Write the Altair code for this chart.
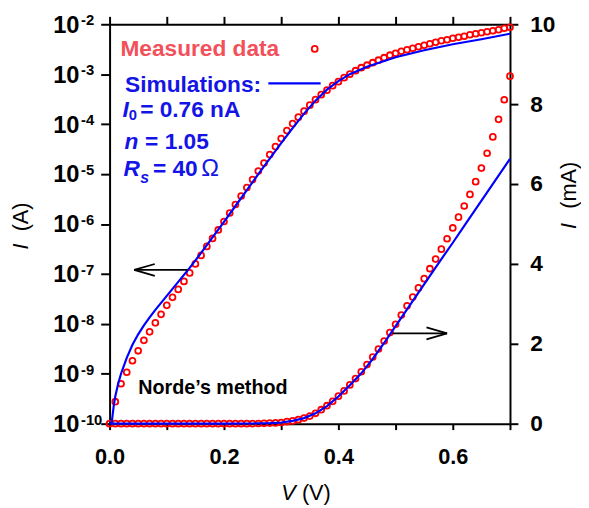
import altair as alt
import pandas as pd

FONT = "Liberation Sans"

# ---------------- data ----------------
# measured, log plot (left axis): V in volts, log10(I / A)
V_log_meas = [0.01, 0.02, 0.03, 0.04, 0.05, 0.06, 0.07, 0.08, 0.09, 0.10,
              0.11, 0.12, 0.13, 0.14, 0.15, 0.16, 0.17, 0.18, 0.19, 0.20,
              0.21, 0.22, 0.23, 0.24, 0.25, 0.26, 0.27, 0.28, 0.29, 0.30,
              0.31, 0.32, 0.33, 0.34, 0.35, 0.36, 0.37, 0.38, 0.39, 0.40,
              0.41, 0.42, 0.43, 0.44, 0.45, 0.46, 0.47, 0.48, 0.49, 0.50,
              0.51, 0.52, 0.53, 0.54, 0.55, 0.56, 0.57, 0.58, 0.59, 0.60,
              0.61, 0.62, 0.63, 0.64, 0.65, 0.66, 0.67, 0.68, 0.69, 0.70]
logI_meas = [-9.56, -9.20, -8.97, -8.74, -8.54, -8.33, -8.16, -7.98, -7.81, -7.63,
             -7.47, -7.31, -7.15, -6.98, -6.80, -6.63, -6.45, -6.29, -6.12, -5.95,
             -5.78, -5.61, -5.44, -5.27, -5.11, -4.94, -4.78, -4.61, -4.45, -4.29,
             -4.13, -3.99, -3.86, -3.74, -3.62, -3.51, -3.41, -3.32, -3.23, -3.15,
             -3.07, -3.00, -2.93, -2.87, -2.82, -2.77, -2.72, -2.67, -2.62, -2.58,
             -2.54, -2.51, -2.48, -2.45, -2.42, -2.39, -2.36, -2.33, -2.31, -2.28,
             -2.26, -2.24, -2.21, -2.19, -2.17, -2.15, -2.13, -2.11, -2.08, -2.06]

# measured, linear plot (right axis): V in volts, I in mA
V_lin_meas = [0.00, 0.01, 0.02, 0.03, 0.04, 0.05, 0.06, 0.07, 0.08, 0.09, 0.10,
              0.11, 0.12, 0.13, 0.14, 0.15, 0.16, 0.17, 0.18, 0.19, 0.20,
              0.21, 0.22, 0.23, 0.24, 0.25, 0.26, 0.27, 0.28, 0.29, 0.30,
              0.31, 0.32, 0.33, 0.34, 0.35, 0.36, 0.37, 0.38, 0.39, 0.40,
              0.41, 0.42, 0.43, 0.44, 0.45, 0.46, 0.47, 0.48, 0.49, 0.50,
              0.51, 0.52, 0.53, 0.54, 0.55, 0.56, 0.57, 0.58, 0.59, 0.60,
              0.61, 0.62, 0.63, 0.64, 0.65, 0.66, 0.67, 0.68, 0.69, 0.70]
I_mA_meas = [0.0, 0.0, 0.0, 0.0, 0.0, 0.0, 0.0, 0.0, 0.0, 0.0, 0.0,
             0.0, 0.0, 0.0, 0.0, 0.0, 0.0, 0.0, 0.0, 0.0, 0.0,
             0.0, 0.0, 0.0, 0.0, 0.0, 0.005, 0.01, 0.015, 0.02, 0.03,
             0.05, 0.07, 0.10, 0.14, 0.19, 0.26, 0.35, 0.45, 0.56, 0.69,
             0.82, 0.97, 1.13, 1.30, 1.48, 1.67, 1.87, 2.07, 2.28, 2.49,
             2.72, 2.95, 3.17, 3.40, 3.63, 3.88, 4.12, 4.37, 4.63, 4.90,
             5.17, 5.45, 5.74, 6.06, 6.40, 6.77, 7.18, 7.62, 8.11, 8.70]

# simulation, log plot
V_sim_log = [0.0035, 0.005, 0.0075, 0.01, 0.015, 0.02, 0.03, 0.04, 0.05, 0.06,
             0.07, 0.08, 0.09, 0.10, 0.12, 0.14, 0.16, 0.18, 0.20, 0.22,
             0.24, 0.26, 0.28, 0.30, 0.32, 0.34, 0.36, 0.38, 0.40, 0.42,
             0.45, 0.50, 0.55, 0.60, 0.65, 0.70]
logI_sim = [-10.0, -9.86, -9.62, -9.45, -9.20, -9.00, -8.68, -8.42, -8.21, -8.03,
            -7.87, -7.72, -7.58, -7.44, -7.16, -6.88, -6.58, -6.27, -5.96, -5.64,
            -5.32, -5.00, -4.69, -4.38, -4.08, -3.79, -3.53, -3.31, -3.14, -3.00,
            -2.85, -2.66, -2.52, -2.40, -2.30, -2.19]

# simulation, linear plot (mA)
V_sim_lin = [0.0, 0.10, 0.20, 0.25, 0.28, 0.30, 0.32, 0.34, 0.36, 0.38, 0.40,
             0.42, 0.44, 0.46, 0.48, 0.50, 0.52, 0.54, 0.56, 0.58, 0.60,
             0.62, 0.64, 0.66, 0.68, 0.70]
I_mA_sim = [0.0, 0.0, 0.0, 0.005, 0.015, 0.03, 0.07, 0.14, 0.26, 0.44, 0.68,
            0.96, 1.26, 1.62, 2.02, 2.44, 2.86, 3.28, 3.70, 4.12, 4.53,
            4.95, 5.37, 5.79, 6.21, 6.63]

# axis ticks
x_ticks = [0.0, 0.1, 0.2, 0.3, 0.4, 0.5, 0.6, 0.7]
log_exponents = [-10, -9, -8, -7, -6, -5, -4, -3, -2]
lin_ticks = [0, 2, 4, 6, 8, 10]

# annotation arrows (data coordinates)
arrow_left = {"x": [0.043, 0.043, 0.043], "x2": [0.136, 0.079, 0.079],
              "y": [1.2e-7, 1.2e-7, 1.2e-7], "y2": [1.2e-7, 1.58e-7, 9.1e-8]}
arrow_right = {"x": [0.495, 0.590, 0.590], "x2": [0.590, 0.554, 0.554],
               "y": [2.26, 2.26, 2.26], "y2": [2.26, 2.41, 2.11]}

assert len(V_log_meas) == len(logI_meas)
assert len(V_lin_meas) == len(I_mA_meas)
assert len(V_sim_log) == len(logI_sim)
assert len(V_sim_lin) == len(I_mA_sim)

# ---------------- tables ----------------
df_log_meas = pd.DataFrame({"V": V_log_meas, "I": [10 ** v for v in logI_meas]})
df_log_sim = pd.DataFrame({"V": V_sim_log, "I": [10 ** v for v in logI_sim]})
df_lin_meas = pd.DataFrame({"V": V_lin_meas, "I": I_mA_meas})
df_lin_sim = pd.DataFrame({"V": V_sim_lin, "I": I_mA_sim})
df_sup = pd.DataFrame({"I": [10.0 ** e for e in log_exponents],
                       "sup": [str(e) for e in log_exponents]})
df_arrow_l = pd.DataFrame(arrow_left)
df_arrow_r = pd.DataFrame(arrow_right)
one = pd.DataFrame({"a": [0]})

RED = "#FF0000"
BLUE = "#0000FF"
BLUE_TXT = "#1414E6"
RED_TXT = "#F2505A"

x_scale = alt.Scale(domain=[0, 0.7], nice=False, zero=False)
ylog = alt.Scale(type="log", domain=[1e-10, 1e-2], nice=False)
ylin = alt.Scale(domain=[0, 10], nice=False, zero=False)

x_bottom = alt.Axis(orient="bottom", values=x_ticks, title=None, grid=False,
                    labelExpr="round(datum.value*10)%2==0 ? format(datum.value,'.1f') : ''",
                    tickSize=6, labelPadding=17, labelFlush=False, labelOverlap=False,
                    labelFontSize=22)
x_top = alt.Axis(orient="top", values=x_ticks, title=None, grid=False, labels=False,
                 tickSize=8)
y_left = alt.Axis(orient="left", values=[10.0 ** e for e in log_exponents], title=None,
                  grid=False, labelExpr="'10'", tickSize=9, labelPadding=22,
                  labelFlush=False, labelOverlap=False, labelFontSize=24, labelOffset=1)
y_right = alt.Axis(orient="right", values=lin_ticks, title=None, grid=False,
                   tickSize=8, labelPadding=12, labelFlush=False, labelOverlap=False,
                   labelFontSize=23)

# ---------------- log (left axis) layers ----------------
log_pts = alt.Chart(df_log_meas).mark_point(
    shape="circle", filled=False, color=RED, size=36, strokeWidth=1.8, opacity=1
).encode(
    x=alt.X("V:Q", scale=x_scale, axis=x_bottom),
    y=alt.Y("I:Q", scale=ylog, axis=y_left),
)
log_line = alt.Chart(df_log_sim).mark_line(color=BLUE, strokeWidth=2.2, clip=True).encode(
    x=alt.X("V:Q", scale=x_scale, axis=None),
    y=alt.Y("I:Q", scale=ylog, axis=None),
)
log_arrow = alt.Chart(df_arrow_l).mark_rule(color="black", strokeWidth=1.8).encode(
    x=alt.X("x:Q", scale=x_scale, axis=None), x2="x2:Q",
    y=alt.Y("y:Q", scale=ylog, axis=None), y2="y2:Q",
)
sup = alt.Chart(df_sup).mark_text(
    align="left", baseline="alphabetic", dy=1, fontSize=15, fontWeight="bold",
    font=FONT, color="black"
).encode(
    x=alt.value(-29),
    y=alt.Y("I:Q", scale=ylog, axis=None),
    text="sup:N",
)

# ---------------- linear (right axis) layers ----------------
lin_pts = alt.Chart(df_lin_meas).mark_point(
    shape="circle", filled=False, color=RED, size=36, strokeWidth=1.8, opacity=1
).encode(
    x=alt.X("V:Q", scale=x_scale, axis=None),
    y=alt.Y("I:Q", scale=ylin, axis=y_right),
)
lin_line = alt.Chart(df_lin_sim).mark_line(color=BLUE, strokeWidth=2.2).encode(
    x=alt.X("V:Q", scale=x_scale, axis=x_top),
    y=alt.Y("I:Q", scale=ylin, axis=None),
)
lin_arrow = alt.Chart(df_arrow_r).mark_rule(color="black", strokeWidth=1.8).encode(
    x=alt.X("x:Q", scale=x_scale, axis=None), x2="x2:Q",
    y=alt.Y("y:Q", scale=ylin, axis=None), y2="y2:Q",
)


def txt(text, x, y, size=23, weight="bold", style="normal", color="black", angle=0):
    return alt.Chart(one).mark_text(
        text=text, align="left", baseline="alphabetic", fontSize=size,
        fontWeight=weight, fontStyle=style, color=color, angle=angle, font=FONT
    ).encode(x=alt.value(x), y=alt.value(y))


notes = [
    txt("Measured data", 11, 32.6, color=RED_TXT),
    txt("Simulations:", 15.7, 68.6, color=BLUE_TXT),
    txt("I", 13, 94.3, style="italic", color=BLUE_TXT),
    txt("0", 19.5, 97.5, size=15, color=BLUE_TXT),
    txt("= 0.76 nA", 31, 94.3, color=BLUE_TXT),
    txt("n", 15, 126.0, style="italic", color=BLUE_TXT),
    txt("= 1.05", 36, 126.0, color=BLUE_TXT),
    txt("R", 14, 154.3, style="italic", color=BLUE_TXT),
    txt("s", 31, 160.5, size=16, style="italic", color=BLUE_TXT),
    txt("= 40", 44, 154.3, color=BLUE_TXT),
    txt("\u03a9", 93, 154.3, size=24, weight="normal", color=BLUE_TXT),
    txt("Norde\u2019s method", 29, 375, size=20),
    # axis titles
    txt("I", -83, 228.5, size=22, weight="normal", style="italic", angle=270),
    txt("(A)", -83, 210, size=22, weight="normal", angle=270),
    txt("V", 174, 482, size=22, weight="normal", style="italic"),
    txt("(V)", 195, 482, size=22, weight="normal"),
    txt("I", 473, 207.5, size=22, weight="normal", style="italic", angle=270),
    txt("(mA)", 473, 187, size=22, weight="normal", angle=270),
]

legend_pt = alt.Chart(one).mark_point(
    shape="circle", filled=False, color=RED, size=36, strokeWidth=1.8, opacity=1
).encode(x=alt.value(208), y=alt.value(25))
legend_line = alt.Chart(one).mark_rule(color=BLUE, strokeWidth=2.2).encode(
    x=alt.value(161), x2=alt.value(214), y=alt.value(60)
)

chart = alt.layer(
    log_pts, lin_pts, log_line, lin_line, log_arrow, lin_arrow, sup,
    legend_pt, legend_line, *notes
).resolve_scale(y="independent").resolve_axis(
    x="independent", y="independent"
).properties(
    width=406, height=405,
    padding={"left": 103, "top": 13, "right": 72, "bottom": 82},
    autosize=alt.AutoSizeParams(type="none"),
).configure_axis(
    domainColor="black", domainWidth=2, tickColor="black", tickWidth=2,
    labelFont=FONT, labelFontSize=22, labelFontWeight="bold", labelColor="black",
).configure_view(stroke=None)

chart.save("out.html", embed_options={"renderer": "svg", "actions": False})
